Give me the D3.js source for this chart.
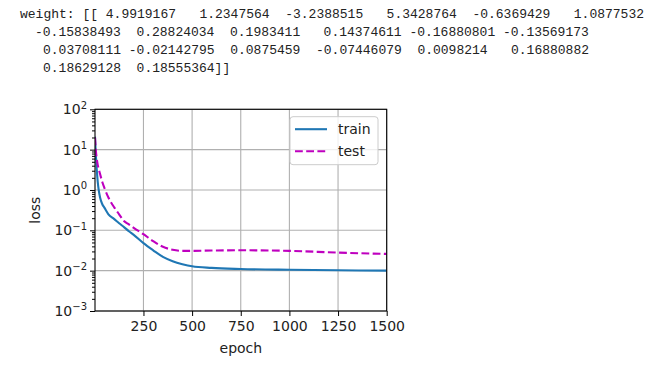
<!DOCTYPE html>
<html>
<head>
<meta charset="utf-8">
<script src="https://cdn.jsdelivr.net/npm/d3@7"></script>
<style>
  body { margin: 0; background: #fff; }
  svg text { font-family: "DejaVu Sans", sans-serif; }
  .weights text { font-family: "Liberation Mono", monospace; fill: #222; font-size: 13px; }
  .grid line { stroke: #b0b0b0; stroke-width: 1.1px; }
</style>
</head>
<body>
<div id="chart"></div>
<script>
// printed output above the plot
const weightLines = [
  'weight: [[ 4.9919167   1.2347564  -3.2388515   5.3428764  -0.6369429   1.0877532',
  '-0.15838493  0.28824034  0.1983411   0.14374611 -0.16880801 -0.13569173',
  '0.03708111 -0.02142795  0.0875459  -0.07446079  0.0098214   0.16880882',
  '0.18629128  0.18555364]]'
]

// loss curves
const epochs    = [1, 5, 10, 15, 20, 27, 38, 50, 70, 100, 125, 150, 175, 200, 250, 300, 350, 400, 450, 500, 600, 750, 1000, 1250, 1500]
const trainLoss = [21, 8, 3.2, 1.6, 1.0, 0.65, 0.45, 0.36, 0.25, 0.19, 0.15, 0.12, 0.095, 0.077, 0.048, 0.032, 0.022, 0.0172, 0.0145, 0.0128, 0.0117, 0.011, 0.0105, 0.0102, 0.0100]
const testLoss  = [20, 10, 6, 4.2, 3.3, 2.5, 1.6, 1.1, 0.65, 0.37, 0.25, 0.17, 0.14, 0.115, 0.08, 0.054, 0.039, 0.033, 0.031, 0.031, 0.0315, 0.032, 0.031, 0.028, 0.026]

const xTicks = [250, 500, 750, 1000, 1250, 1500]
const yTicks = [1e-3, 1e-2, 1e-1, 1e0, 1e1, 1e2]

const width = 650
const height = 371
const plot = { left: 95, right: 386.7, top: 109.3, bottom: 311 }
const charW = 7.8

const svg = d3.select('#chart')
  .append('svg')
  .attr('width', width)
  .attr('height', height)

// text block, monospace columns like the console output
const textStart = [20, 35, 43, 43]
svg.append('g').attr('class', 'weights')
  .selectAll('text')
  .data(weightLines)
  .join('text')
  .attr('x', (d, i) => textStart[i])
  .attr('y', (d, i) => 17.5 + i * 18.3)
  .attr('textLength', d => d.length * charW)
  .attr('lengthAdjust', 'spacing')
  .style('white-space', 'pre')
  .text(d => d)

const x = d3.scaleLinear().domain([1, 1500]).range([plot.left, plot.right])
const y = d3.scaleLog().domain([1e-3, 1e2]).range([plot.bottom, plot.top])

// grid
const grid = svg.append('g').attr('class', 'grid')
grid.selectAll('.gx').data(xTicks).join('line')
  .attr('x1', d => x(d)).attr('x2', d => x(d))
  .attr('y1', plot.top).attr('y2', plot.bottom)
grid.selectAll('.gy').data(yTicks).join('line')
  .attr('x1', plot.left).attr('x2', plot.right)
  .attr('y1', d => y(d)).attr('y2', d => y(d))

// curves
const line = d3.line()
  .x(d => x(d[0]))
  .y(d => y(d[1]))
  .curve(d3.curveMonotoneX)

svg.append('clipPath').attr('id', 'clip')
  .append('rect')
  .attr('x', plot.left).attr('y', plot.top)
  .attr('width', plot.right - plot.left).attr('height', plot.bottom - plot.top)

const curves = svg.append('g').attr('clip-path', 'url(#clip)')
curves.append('path')
  .datum(d3.zip(epochs, trainLoss))
  .attr('d', line)
  .attr('fill', 'none')
  .attr('stroke', '#1f77b4')
  .attr('stroke-width', 2.1)
curves.append('path')
  .datum(d3.zip(epochs, testLoss))
  .attr('d', line)
  .attr('fill', 'none')
  .attr('stroke', '#bf00bf')
  .attr('stroke-width', 2.1)
  .attr('stroke-dasharray', '7.8,3.4')

// axes
const xAxis = svg.append('g')
  .attr('transform', `translate(0,${plot.bottom})`)
  .call(d3.axisBottom(x).tickValues(xTicks).tickSize(5).tickPadding(5).tickSizeOuter(0).tickFormat(d3.format('d')))
xAxis.select('.domain').remove()
xAxis.selectAll('text').attr('font-size', 14).attr('fill', '#222').attr('font-family', 'DejaVu Sans')

const minorTicks = []
for (let e = -3; e < 2; e++) for (let m = 2; m < 10; m++) minorTicks.push(m * Math.pow(10, e))

const yMinor = svg.append('g')
  .attr('transform', `translate(${plot.left},0)`)
  .call(d3.axisLeft(y).tickValues(minorTicks).tickSize(3).tickFormat(''))
yMinor.select('.domain').remove()

const yAxis = svg.append('g')
  .attr('transform', `translate(${plot.left},0)`)
  .call(d3.axisLeft(y).tickValues(yTicks).tickSize(5).tickPadding(3).tickFormat(''))
yAxis.select('.domain').remove()
yAxis.selectAll('.tick text')
  .attr('font-size', 14).attr('fill', '#222').attr('font-family', 'DejaVu Sans')
  .each(function(d) {
    const t = d3.select(this)
    const e = Math.round(Math.log10(d))
    t.append('tspan').text('10')
    t.append('tspan').attr('dy', '-0.55em').attr('font-size', 10)
      .text(e < 0 ? '\u2212' + (-e) : String(e))
  })

// spines
svg.append('rect')
  .attr('x', plot.left).attr('y', plot.top)
  .attr('width', plot.right - plot.left).attr('height', plot.bottom - plot.top)
  .attr('fill', 'none').attr('stroke', '#000').attr('stroke-width', 1.1)

// axis labels
svg.append('text')
  .attr('x', (plot.left + plot.right) / 2).attr('y', 353)
  .attr('text-anchor', 'middle').attr('font-size', 14).attr('fill', '#222')
  .text('epoch')
svg.append('text')
  .attr('transform', `translate(39.5,${(plot.top + plot.bottom) / 2}) rotate(-90)`)
  .attr('text-anchor', 'middle').attr('font-size', 14).attr('fill', '#222')
  .text('loss')

// legend
const legend = svg.append('g').attr('transform', 'translate(290,116.7)')
legend.append('rect')
  .attr('width', 88).attr('height', 48).attr('rx', 3)
  .attr('fill', '#fff').attr('fill-opacity', 0.8)
  .attr('stroke', '#ccc').attr('stroke-width', 1)
const legendItems = [
  { name: 'train', color: '#1f77b4', dash: null },
  { name: 'test', color: '#bf00bf', dash: '7.8,3.4' }
]
legendItems.forEach((d, i) => {
  const ly = 12.5 + i * 22
  legend.append('line')
    .attr('x1', 5).attr('x2', 37).attr('y1', ly).attr('y2', ly)
    .attr('stroke', d.color).attr('stroke-width', 2.1)
    .attr('stroke-dasharray', d.dash)
  legend.append('text')
    .attr('x', 48).attr('y', ly + 5)
    .attr('font-size', 14).attr('fill', '#222')
    .text(d.name)
})
</script>
</body>
</html>
